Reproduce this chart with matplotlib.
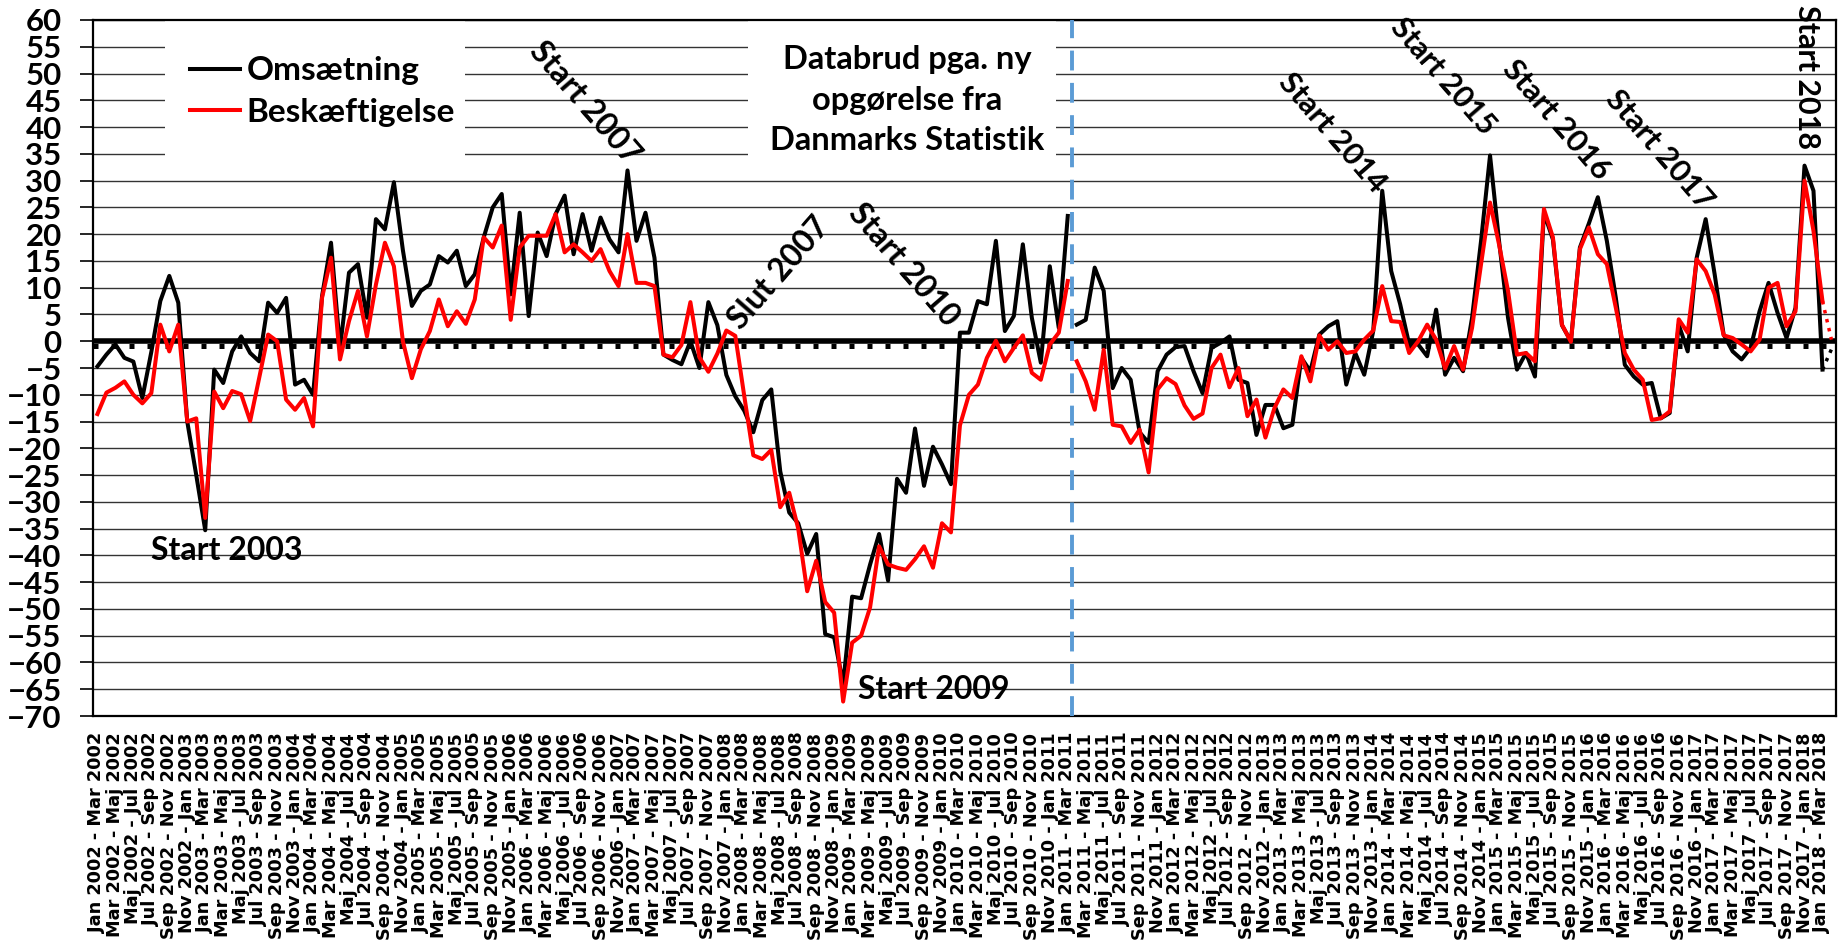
import matplotlib
matplotlib.use("Agg")
import matplotlib.pyplot as plt
from matplotlib.patches import Rectangle

plt.rcParams['font.family'] = ['Lato', 'DejaVu Sans']
plt.rcParams['font.weight'] = 'bold'

# Data: 3-maaneders perioder, jan 2002 - mar 2002 ... feb 2018 - apr 2018
maaneder = ['Jan', 'Feb', 'Mar', 'Apr', 'Maj', 'Jun', 'Jul', 'Aug', 'Sep', 'Okt', 'Nov', 'Dec']
start_aar = 2002

omsaetning = [
    -4.7, -2.5, -0.6, -3.1, -3.8, -10.6, -2, 7.5, 12.2, 7.2,
    -15, -25, -35.3, -5.3, -7.8, -1.9, 0.9, -2.2, -3.75, 7.2,
    5.3, 8.1, -8.1, -7.2, -10, 8.4, 18.4, -1.25, 12.8, 14.4,
    4.4, 22.8, 20.9, 29.7, 17, 6.6, 9.4, 10.6, 15.9, 14.7,
    16.9, 10.3, 12.5, 19.4, 25, 27.5, 8.75, 24, 4.7, 20.3,
    15.9, 23.75, 27.2, 16.25, 23.75, 16.9, 23.1, 19, 16.6, 31.9,
    18.75, 24, 15.6, -2.5, -3.5, -4.3, 0, -5, 7.3, 3,
    -6.3, -10.3, -13, -17, -11, -9, -24.3, -32, -34, -39.7,
    -36, -54.7, -55.3, -64, -47.7, -48, -41.7, -36, -44.7, -25.7,
    -28.3, -16.3, -27, -19.7, -23, -26.7, 1.6, 1.6, 7.5, 6.9,
    18.75, 1.9, 4.7, 18.1, 4.4, -4, 14, 2.5, 23.4, 3.1,
    4, 13.75, 9.4, -8.75, -5, -7.2, -17, -19, -5.6, -2.5,
    -1.1, -0.9, -5.6, -9.7, -1.25, -0.3, 0.9, -7.2, -7.8, -17.5,
    -11.9, -11.9, -16.25, -15.6, -3.1, -5.6, 1.25, 2.8, 3.75, -8.1,
    -2.2, -6.25, 1.9, 28.1, 13.1, 6.9, -0.6, -0.6, -2.8, 5.9,
    -6.25, -3.1, -5.6, 4.4, 18.75, 34.7, 18.75, 4.4, -5.3, -2.2,
    -6.6, 24, 19, 3, 0, 17.5, 22, 26.9, 18.75, 8.1,
    -4.4, -6.6, -8.1, -7.8, -14.4, -13.4, 3.1, -1.9, 15.6, 22.8,
    12.5, 1.25, -1.9, -3.4, -1.25, 5.6, 10.9, 5.3, 0.6, 6.25,
    32.8, 28.1, -5.3,
]

beskaeftigelse = [
    -13.6, -9.6, -8.7, -7.5, -10, -11.6, -9.7, 3.1, -1.9, 3.1,
    -15, -14.4, -33, -9.4, -12.5, -9.3, -9.9, -14.9, -6.9, 1.25,
    0, -10.9, -12.8, -10.6, -15.9, 8.1, 15.6, -3.4, 3.75, 9.4,
    0.9, 10.6, 18.4, 14, 0, -6.9, -1.5, 1.9, 7.8, 2.8,
    5.6, 3.25, 7.8, 19.4, 17.5, 21.6, 4, 17.5, 19.7, 19.7,
    19.7, 23.75, 16.6, 18.1, 16.6, 15, 17.2, 13.1, 10.3, 20,
    10.9, 10.9, 10.3, -2.5, -3, -0.7, 7.3, -3, -5.7, -2.3,
    2, 1, -10.3, -21.3, -22, -20.3, -31, -28.3, -35, -46.7,
    -41, -48.7, -50.7, -67.3, -56.3, -55, -49.7, -38.3, -41.7, -42.3,
    -42.7, -40.7, -38.3, -42.3, -34, -35.7, -15.7, -10, -8.1, -3.1,
    0.1, -3.75, -1.25, 1.1, -5.9, -7.2, -0.6, 1.6, 11.25, -3.75,
    -7.5, -12.8, -1.6, -15.6, -15.9, -19, -16.5, -24.5, -9, -6.9,
    -8, -12, -14.5, -13.5, -5, -2.5, -8.6, -5, -14, -10.9,
    -18, -12.5, -9, -10.6, -2.8, -7.5, 1.1, -1.6, 0, -2.2,
    -1.9, 0.3, 2, 10.3, 3.75, 3.6, -2.2, 0, 3.1, 0.3,
    -5.1, -0.9, -5.3, 2.5, 14.4, 25.9, 18.1, 9.4, -2.5, -2.2,
    -3.75, 24.7, 19.4, 3.1, -0.1, 17.2, 21.25, 16.25, 14.4, 6.25,
    -2.2, -5.3, -7.2, -14.7, -14.4, -13.1, 4.1, 1.6, 15.3, 13.1,
    8.75, 1.1, 0.6, -0.6, -1.9, 0.3, 10, 10.9, 2.8, 5.6,
    30, 20.6, 7.5,
]

# sidste periode (foreloebig, stiplet)
omsaetning_sidste = -1.5
beskaeftigelse_sidste = 0.3

gennemsnit = -0.8       # prikket linje lige under 0
databrud = 108.5        # ny opgoerelse fra Danmarks Statistik (jan 2011)
n_sidste = 109          # foerste periode efter databrud

annoteringer = [
    ('Start 2003', 14.4, -39.0, 0, 23),
    ('Start 2007', 54.2, 44.5, -49, 23),
    ('Slut 2007', 75.9, 12.7, 49, 23),
    ('Start 2009', 93.1, -65.1, 0, 23),
    ('Start 2010', 89.8, 14.2, -49, 23),
    ('Start 2014', 137.4, 38.9, -49, 22.5),
    ('Start 2015', 149.8, 49.5, -49, 22),
    ('Start 2016', 162.4, 41.3, -49, 22.5),
    ('Start 2017', 173.9, 35.7, -49, 22.5),
    ('Start 2018', 190.3, 49.4, -90, 22),
]

n = len(omsaetning) + 1
labels = []
for i in range(n):
    s, e = i, i + 2
    labels.append(f"{maaneder[s % 12]} {start_aar + s // 12} - {maaneder[e % 12]} {start_aar + e // 12}")

x = list(range(n))

fig = plt.figure(figsize=(18.4, 9.47), dpi=100)
ax = fig.add_axes([0.0505, 0.2439, 0.9473, 0.735])

ax.set_xlim(-0.5, n - 0.5)
ax.set_ylim(-70, 60)
ax.set_yticks(range(-70, 61, 5))
ax.grid(axis='y', color='#333333', linewidth=1.0)
ax.set_axisbelow(True)
for sp in ax.spines.values():
    sp.set_linewidth(1.6)
    sp.set_color('black')
ax.tick_params(axis='y', length=9.5, width=1.2, pad=13, labelsize=22.5)
ax.tick_params(axis='x', length=0, pad=12)
ax.set_xticks(x[::2])
ax.set_xticklabels(labels[::2], rotation=90, fontsize=12.8,
                   fontfamily='DejaVu Sans', fontweight='bold')

# hvide felter bag forklaring og tekstboks
ax.add_patch(Rectangle((0.0413, 0.80), 0.172, 0.2, transform=ax.transAxes,
                       facecolor='white', edgecolor='none', zorder=1))
ax.add_patch(Rectangle((0.3758, 0.785), 0.177, 0.215, transform=ax.transAxes,
                       facecolor='white', edgecolor='none', zorder=1))

ax.axhline(0, color='black', linewidth=4.0, zorder=2)
ax.plot([x[0] - 0.5, x[-1] + 0.5], [gennemsnit, gennemsnit], color='black',
        linewidth=3.6, dashes=(1, 2.6), solid_capstyle='butt', zorder=2)

ax.axvline(databrud, color='#5B9BD5', linewidth=2.8, dashes=(5.1, 3.2), zorder=4)

ax.plot(x[:n_sidste], omsaetning[:n_sidste], color='black', linewidth=2.9,
        zorder=3, label='Omsætning')
ax.plot(x[n_sidste:n - 1], omsaetning[n_sidste:], color='black', linewidth=2.9, zorder=3)
ax.plot(x[:n_sidste], beskaeftigelse[:n_sidste], color='red', linewidth=2.9,
        zorder=3, label='Beskæftigelse')
ax.plot(x[n_sidste:n - 1], beskaeftigelse[n_sidste:], color='red', linewidth=2.9, zorder=3)
ax.plot(x[n - 2:], [omsaetning[-1], omsaetning_sidste], color='black',
        linewidth=2.5, linestyle=':', zorder=3)
ax.plot(x[n - 2:], [beskaeftigelse[-1], beskaeftigelse_sidste], color='red',
        linewidth=2.5, linestyle=':', zorder=3)

ax.legend(loc='upper left', bbox_to_anchor=(0.0557, 0.948), frameon=False,
          fontsize=24, borderpad=0, borderaxespad=0, handlelength=1.5,
          handletextpad=0.2, labelspacing=0.38)

ax.text(0.467, 0.885, 'Databrud pga. ny\nopgørelse fra\nDanmarks Statistik',
        transform=ax.transAxes, ha='center', va='center', fontsize=23.5,
        linespacing=1.47, zorder=5)

for tekst, xi, yi, rot, fs in annoteringer:
    ax.text(xi, yi, tekst, ha='center', va='center', rotation=rot,
            rotation_mode='anchor', fontsize=fs, zorder=5, clip_on=False)

fig.savefig('out.png', dpi=100)
